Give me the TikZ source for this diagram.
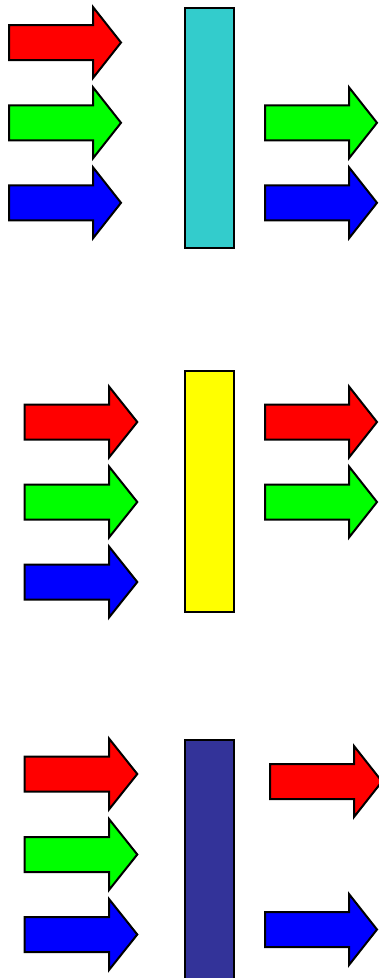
\documentclass[tikz,border=0pt]{standalone}
\usetikzlibrary{calc}
\definecolor{rred}{HTML}{FF0000}
\definecolor{ggreen}{HTML}{00FF00}
\definecolor{bblue}{HTML}{0000FF}
\definecolor{cyanbar}{HTML}{33CCCC}
\definecolor{yellowbar}{HTML}{FFFF00}
\definecolor{navybar}{HTML}{333399}
\tikzset{
  fatarrow/.style={draw=black, line width=2pt, line join=miter},
  filterbar/.style={draw=black, line width=2pt}
}
% #1 colour, #2 tail x, #3 head base x, #4 tip x, #5 centre y
\newcommand{\fatarr}[5]{%
  \path[fatarrow, fill=#1] (#2,#5-17.5) -- (#3,#5-17.5) -- (#3,#5-35.5) -- (#4,#5)
     -- (#3,#5+35.5) -- (#3,#5+17.5) -- (#2,#5+17.5) -- cycle;}
\begin{document}
\begin{tikzpicture}[x=1pt,y=-1pt]
\useasboundingbox (0,0) rectangle (379,978);
\begin{scope}
\clip (0,0) rectangle (379,978);
% panel 1
\draw[filterbar, fill=cyanbar] (184.5,7.5) rectangle (233.5,248);
\fatarr{rred}{9}{93}{121}{42.5}
\fatarr{ggreen}{9}{93}{121}{122.8}
\fatarr{bblue}{9}{93}{121}{202.8}
\fatarr{ggreen}{265}{349}{377}{122.8}
\fatarr{bblue}{265}{349}{377}{202.8}
% panel 2
\draw[filterbar, fill=yellowbar] (184.5,371) rectangle (233.5,611.5);
\fatarr{rred}{24.5}{109}{137.3}{422}
\fatarr{ggreen}{24.5}{109}{137.3}{502}
\fatarr{bblue}{24.5}{109}{137.3}{582}
\fatarr{rred}{265}{349}{377}{422}
\fatarr{ggreen}{265}{349}{377}{502}
% panel 3
\draw[filterbar, fill=navybar] (184.5,739.5) rectangle (233.5,990);
\fatarr{rred}{24.5}{109}{137.3}{774}
\fatarr{ggreen}{24.5}{109}{137.3}{854.5}
\fatarr{bblue}{24.5}{109}{137.3}{934.5}
\fatarr{rred}{270}{354}{382}{781.5}
\fatarr{bblue}{265}{349}{377}{929.5}
\end{scope}
\end{tikzpicture}
\end{document}
